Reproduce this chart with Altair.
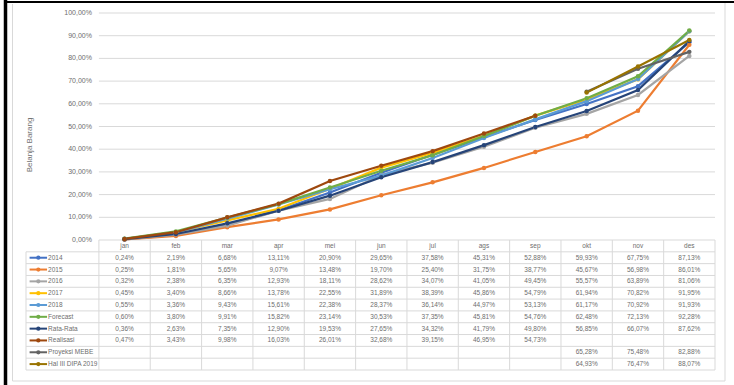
import altair as alt
import pandas as pd

# ---------------- data ----------------
months = ["jan", "feb", "mar", "apr", "mei", "jun", "jul", "ags", "sep", "okt", "nov", "des"]
series = ["2014", "2015", "2016", "2017", "2018", "Forecast", "Rata-Rata",
          "Realisasi", "Proyeksi MEBE", "Hal III DIPA 2019"]
colors = ["#4472C4", "#ED7D31", "#A5A5A5", "#FFC000", "#5B9BD5", "#70AD47",
          "#264478", "#9E480E", "#636363", "#997300"]

N = None
v2014 = [0.24, 2.19, 6.68, 13.11, 20.90, 29.65, 37.58, 45.31, 52.88, 59.93, 67.75, 87.13]
v2015 = [0.25, 1.81, 5.65, 9.07, 13.48, 19.70, 25.40, 31.75, 38.77, 45.67, 56.98, 86.01]
v2016 = [0.32, 2.38, 6.35, 12.93, 18.11, 28.62, 34.07, 41.05, 49.45, 55.57, 63.89, 81.06]
v2017 = [0.45, 3.40, 8.66, 13.78, 22.55, 31.89, 38.39, 45.86, 54.79, 61.94, 70.82, 91.95]
v2018 = [0.55, 3.36, 9.43, 15.61, 22.38, 28.37, 36.14, 44.97, 53.13, 61.17, 70.92, 91.93]
vforecast = [0.60, 3.80, 9.91, 15.82, 23.14, 30.53, 37.35, 45.81, 54.76, 62.48, 72.13, 92.28]
vrata = [0.36, 2.63, 7.35, 12.90, 19.53, 27.65, 34.32, 41.79, 49.80, 56.85, 66.07, 87.62]
vrealisasi = [0.47, 3.43, 9.98, 16.03, 26.01, 32.68, 39.15, 46.95, 54.73, N, N, N]
vproyeksi = [N, N, N, N, N, N, N, N, N, 65.28, 75.48, 82.88]
vhal3 = [N, N, N, N, N, N, N, N, N, 64.93, 76.47, 88.07]
all_values = [v2014, v2015, v2016, v2017, v2018, vforecast, vrata, vrealisasi, vproyeksi, vhal3]

y_ticks = [0, 10, 20, 30, 40, 50, 60, 70, 80, 90, 100]
y_title = "Belanja Barang"

# ---------------- layout constants ----------------
PLOT_W, PLOT_H = 689, 357
LINE_H = 227                    # height of the line-chart part
LEG = 1.42                      # width of legend column in month units
FONT = "Liberation Sans"
TXT = "#6e6e6e"
GRID = "#d9d9d9"

def fmt(v):
    return f"{v:.2f}".replace(".", ",") + "%"

# ---------------- tables built from the arrays ----------------
line_rows, cell_rows, leg_rows = [], [], []
for si, (s, vals) in enumerate(zip(series, all_values)):
    r = si + 1
    leg_rows.append({"series": s, "r": r + 0.5, "xa": -LEG + 0.07, "xb": -LEG + 0.41,
                     "xm": -LEG + 0.24, "xt": -LEG + 0.43})
    for mi, v in enumerate(vals):
        if v is None:
            continue
        line_rows.append({"series": s, "order": si, "x": mi + 0.5, "value": v})
        cell_rows.append({"x": mi + 0.5, "r": r + 0.5, "text": fmt(v)})
line_df = pd.DataFrame(line_rows)
cell_df = pd.DataFrame(cell_rows)
leg_df = pd.DataFrame(leg_rows)
head_df = pd.DataFrame({"x": [i + 0.5 for i in range(12)], "r": [0.5] * 12, "text": months})
tick_df = pd.DataFrame({"tick": y_ticks, "x0": [0] * len(y_ticks), "x1": [12] * len(y_ticks),
                        "label": [fmt(t) for t in y_ticks]})
nrows = len(series) + 1
hline_df = pd.DataFrame({"b": list(range(1, nrows + 1)), "xa": [-LEG] * nrows, "xb": [12] * nrows})
vline_df = pd.DataFrame({"x": [-LEG] + list(range(13)),
                         "b0": [1] + [0] * 13, "b1": [nrows] * 14})

xs = alt.Scale(domain=[-LEG, 12], nice=False, zero=False)
ys_line = alt.Scale(domain=[0, 100], range=[LINE_H, 0], nice=False, zero=False)
ys_tab = alt.Scale(domain=[0, nrows], range=[LINE_H, PLOT_H], nice=False, zero=False)
cs = alt.Scale(domain=series, range=colors)

one = pd.DataFrame({"k": [0]})

# ---------------- layers ----------------
grid = alt.Chart(tick_df).mark_rule(color=GRID, strokeWidth=1).encode(
    x=alt.X("x0:Q", scale=xs, axis=None), x2="x1:Q",
    y=alt.Y("tick:Q", scale=ys_line, axis=None))

tick_lbl = alt.Chart(tick_df).mark_text(align="right", baseline="middle", dx=-7,
                                        font=FONT, fontSize=7, color=TXT).encode(
    x=alt.X("x0:Q", scale=xs, axis=None),
    y=alt.Y("tick:Q", scale=ys_line, axis=None), text="label:N")

hlines = alt.Chart(hline_df).mark_rule(color=GRID, strokeWidth=1).encode(
    x=alt.X("xa:Q", scale=xs, axis=None), x2="xb:Q",
    y=alt.Y("b:Q", scale=ys_tab, axis=None))

vlines = alt.Chart(vline_df).mark_rule(color=GRID, strokeWidth=1).encode(
    x=alt.X("x:Q", scale=xs, axis=None),
    y=alt.Y("b0:Q", scale=ys_tab, axis=None), y2="b1:Q")

head = alt.Chart(head_df).mark_text(baseline="middle", font=FONT, fontSize=6.5, color=TXT).encode(
    x=alt.X("x:Q", scale=xs, axis=None),
    y=alt.Y("r:Q", scale=ys_tab, axis=None), text="text:N")

cells = alt.Chart(cell_df).mark_text(baseline="middle", font=FONT, fontSize=6.5, color=TXT).encode(
    x=alt.X("x:Q", scale=xs, axis=None),
    y=alt.Y("r:Q", scale=ys_tab, axis=None), text="text:N")

leg_line = alt.Chart(leg_df).mark_rule(strokeWidth=2).encode(
    x=alt.X("xa:Q", scale=xs, axis=None), x2="xb:Q",
    y=alt.Y("r:Q", scale=ys_tab, axis=None),
    color=alt.Color("series:N", scale=cs, legend=None))

leg_pt = alt.Chart(leg_df).mark_point(filled=True, shape="circle", size=18, opacity=1).encode(
    x=alt.X("xm:Q", scale=xs, axis=None),
    y=alt.Y("r:Q", scale=ys_tab, axis=None),
    color=alt.Color("series:N", scale=cs, legend=None))

leg_txt = alt.Chart(leg_df).mark_text(align="left", baseline="middle", font=FONT,
                                      fontSize=6.5, color=TXT).encode(
    x=alt.X("xt:Q", scale=xs, axis=None),
    y=alt.Y("r:Q", scale=ys_tab, axis=None), text="series:N")

lines = alt.Chart(line_df).mark_line(strokeWidth=2.2).encode(
    x=alt.X("x:Q", scale=xs, axis=None),
    y=alt.Y("value:Q", scale=ys_line, axis=None),
    color=alt.Color("series:N", scale=cs, legend=None),
    order="x:Q")

pts = alt.Chart(line_df).mark_point(filled=True, shape="circle", size=20, opacity=1).encode(
    x=alt.X("x:Q", scale=xs, axis=None),
    y=alt.Y("value:Q", scale=ys_line, axis=None),
    color=alt.Color("series:N", scale=cs, legend=None))

title_txt = alt.Chart(one).mark_text(angle=270, baseline="middle", align="center",
                                     font=FONT, fontSize=8, color=TXT, text=y_title).encode(
    x=alt.value(4), y=alt.value(132))

# frame decorations (chart area border and page frame)
def frule(x, y, x2=None, y2=None, color=GRID, w=1):
    enc = dict(x=alt.value(x), y=alt.value(y))
    if x2 is not None:
        enc["x2"] = alt.value(x2)
    if y2 is not None:
        enc["y2"] = alt.value(y2)
    return alt.Chart(one).mark_rule(color=color, strokeWidth=w).encode(**enc)

frame = [
    frule(-13.5, -9, y2=368),          # left chart border
    frule(699, -10, y2=368),           # right chart border
    frule(-13.5, 368, x2=699),         # bottom chart border
    frule(-20.5, -13, y2=372, color="black", w=3.5),
    frule(-22, -11, x2=708, color="black", w=2),
]

chart = alt.layer(
    grid, tick_lbl, hlines, vlines, head, cells, leg_line, leg_pt, leg_txt,
    lines, pts, title_txt, *frame
).resolve_scale(y="independent").properties(
    width=PLOT_W, height=PLOT_H,
    autosize=alt.AutoSizeParams(type="none"),
    padding={"left": 26, "top": 13, "right": 19, "bottom": 15},
    background="white",
).configure_view(stroke=None)

chart.save("out.html", embed_options={"renderer": "svg", "actions": False})
